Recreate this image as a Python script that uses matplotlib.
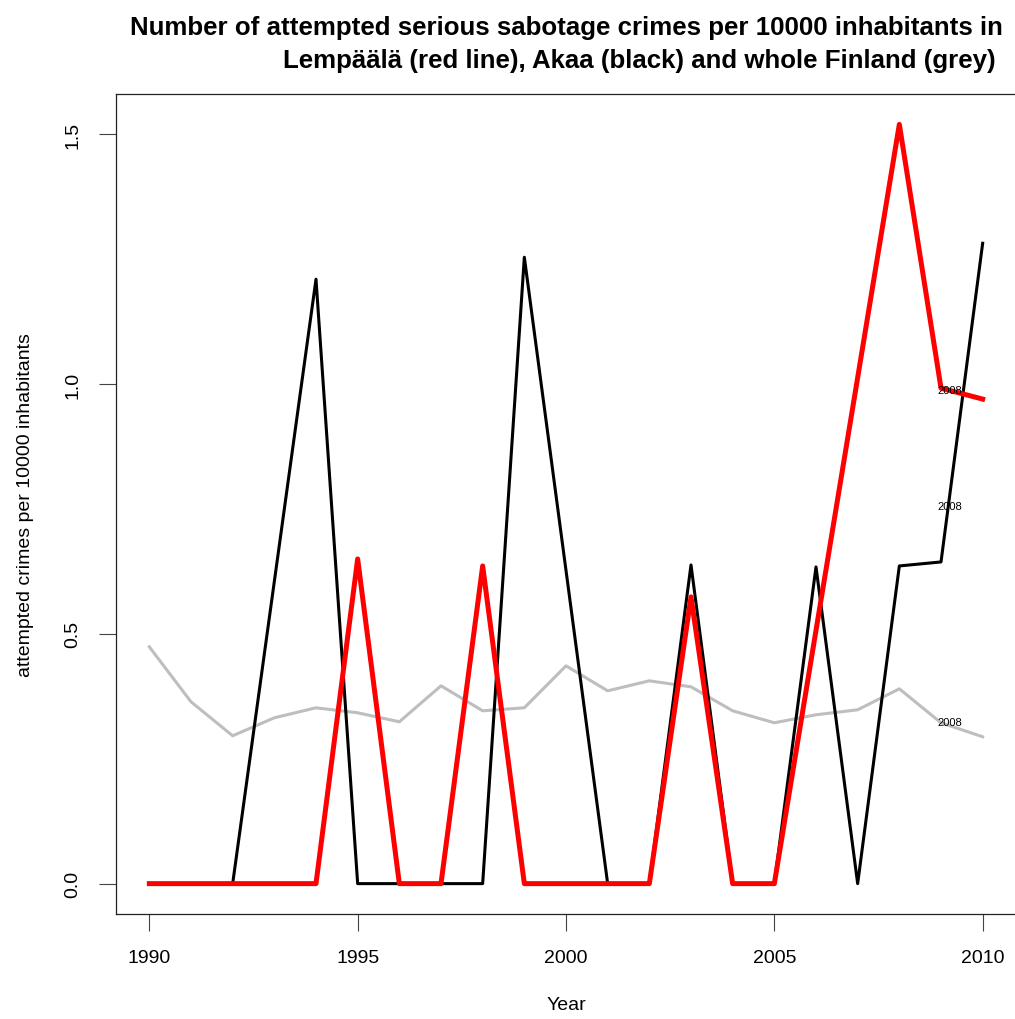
import matplotlib
matplotlib.use('Agg')
import matplotlib.pyplot as plt

plt.rcParams['font.family'] = ['Liberation Sans', 'DejaVu Sans']

years = list(range(1990, 2011))

# attempted serious sabotage crimes per 10000 inhabitants
lempaala = [0, 0, 0, 0, 0, 0.65, 0, 0, 0.636, 0, 0, 0, 0, 0.574, 0, 0,
            0.507, 1.013, 1.52, 0.992, 0.97]
akaa = [0, 0, 0, 0.605, 1.21, 0, 0, 0, 0, 1.254, 0.627, 0, 0, 0.638, 0, 0,
        0.634, 0, 0.636, 0.644, 1.282]
finland = [0.474, 0.364, 0.296, 0.332, 0.352, 0.342, 0.324, 0.396, 0.346, 0.352,
           0.436, 0.386, 0.406, 0.394, 0.346, 0.322, 0.338, 0.348, 0.39, 0.322, 0.294]

# small "2008" markers placed next to the series
label_x = 2009.2
label_y = [0.988, 0.756, 0.324]
label_txt = "2008"

fig = plt.figure(figsize=(10.15, 10.2), dpi=100)
ax = fig.add_axes([116 / 1015, 1 - 915 / 1020, 900 / 1015, 820 / 1020])

ax.plot(years, finland, color='#bebebe', linewidth=2.2)
ax.plot(years, akaa, color='black', linewidth=2.2)
ax.plot(years, lempaala, color='#ff0000', linewidth=3.6)

for y in label_y:
    ax.text(label_x, y, label_txt, fontsize=8, ha='center', va='center')

ax.set_xlim(1989.2, 2010.8)
ax.set_ylim(-0.0608, 1.5808)
ax.set_xticks([1990, 1995, 2000, 2005, 2010])
ax.set_yticks([0.0, 0.5, 1.0, 1.5])
ax.set_yticklabels(['0.0', '0.5', '1.0', '1.5'], rotation=90, va='center')
ax.tick_params(axis='both', direction='out', length=12, width=0.8,
               labelsize=14, pad=13, color='#444444')
for s in ax.spines.values():
    s.set_linewidth(0.9)
    s.set_color('#222222')

ax.set_xlabel("Year", fontsize=14, labelpad=22)
ax.set_ylabel("attempted crimes per 10000 inhabitants", fontsize=14, labelpad=22)

fig.text(566 / 1015, 1 - 28 / 1020,
         "Number of attempted serious sabotage crimes per 10000 inhabitants in",
         fontsize=18.6, fontweight='bold', ha='center', va='center')
fig.text(639 / 1015, 1 - 61 / 1020,
         "Lempäälä (red line), Akaa (black) and whole Finland (grey)",
         fontsize=18.6, fontweight='bold', ha='center', va='center')

fig.savefig('out.png', dpi=100)
plt.close()
